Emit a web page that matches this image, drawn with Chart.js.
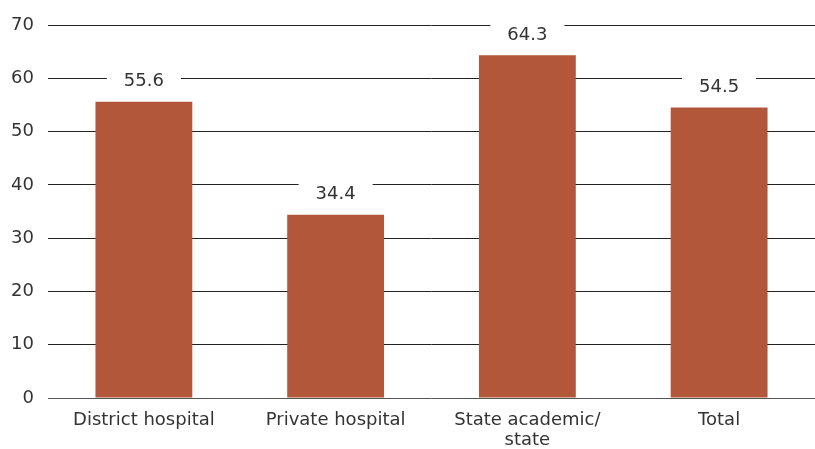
<!DOCTYPE html>
<html>
<head>
<meta charset="utf-8">
<script src="https://cdn.jsdelivr.net/npm/chart.js@4"></script>
<style>
  html, body { margin: 0; padding: 0; background: #fff; }
  #wrap { width: 815px; height: 449px; }
</style>
</head>
<body>
<div id="wrap"><canvas id="barChart"></canvas></div>
<script>
// categories and values
const categories = ['District hospital', 'Private hospital', ['State academic/', 'state'], 'Total'];
const values = [55.6, 34.4, 64.3, 54.5];
const yTicks = [0, 10, 20, 30, 40, 50, 60, 70];

const FONT = '"DejaVu Sans", "Liberation Sans", sans-serif';

// value labels on white boxes, which break the grid lines behind them
const valueLabels = {
  id: 'valueLabels',
  afterDatasetsDraw(chart) {
    const ctx = chart.ctx;
    const meta = chart.getDatasetMeta(0);
    ctx.save();
    ctx.font = '18px ' + FONT;
    ctx.textAlign = 'center';
    ctx.textBaseline = 'middle';
    meta.data.forEach((bar, i) => {
      const y = bar.y - 20;
      ctx.fillStyle = '#fff';
      ctx.fillRect(bar.x - 37, y - 12, 74, 24);
      ctx.fillStyle = '#333';
      ctx.fillText(values[i].toFixed(1), bar.x, y);
    });
    ctx.restore();
  }
};

const ctx = document.getElementById('barChart').getContext('2d');
new Chart(ctx, {
  type: 'bar',
  data: {
    labels: categories,
    datasets: [{
      data: values,
      backgroundColor: '#B3573A',
      categoryPercentage: 1,
      barPercentage: 0.505
    }]
  },
  options: {
    responsive: true,
    maintainAspectRatio: false,
    animation: false,
    layout: { padding: { top: 25, right: 0, left: 0, bottom: 0 } },
    plugins: {
      legend: { display: false },
      tooltip: { enabled: false }
    },
    scales: {
      x: {
        grid: { display: false },
        border: { display: false },
        afterFit(scale) { scale.height = 51; },
        ticks: {
          color: '#333',
          font: { family: FONT, size: 18, lineHeight: '20px' },
          padding: 4,
          maxRotation: 0,
          autoSkip: false
        }
      },
      y: {
        min: 0,
        max: 70,
        afterFit(scale) { scale.width = 48; },
        afterBuildTicks(scale) { scale.ticks = yTicks.map(v => ({ value: v })); },
        border: { display: false },
        grid: {
          color: (c) => c.tick && c.tick.value === 0 ? '#555' : '#222',
          lineWidth: 1,
          drawTicks: false
        },
        ticks: {
          color: '#333',
          font: { family: FONT, size: 18 },
          padding: 14
        }
      }
    }
  },
  plugins: [valueLabels]
});
</script>
</body>
</html>
